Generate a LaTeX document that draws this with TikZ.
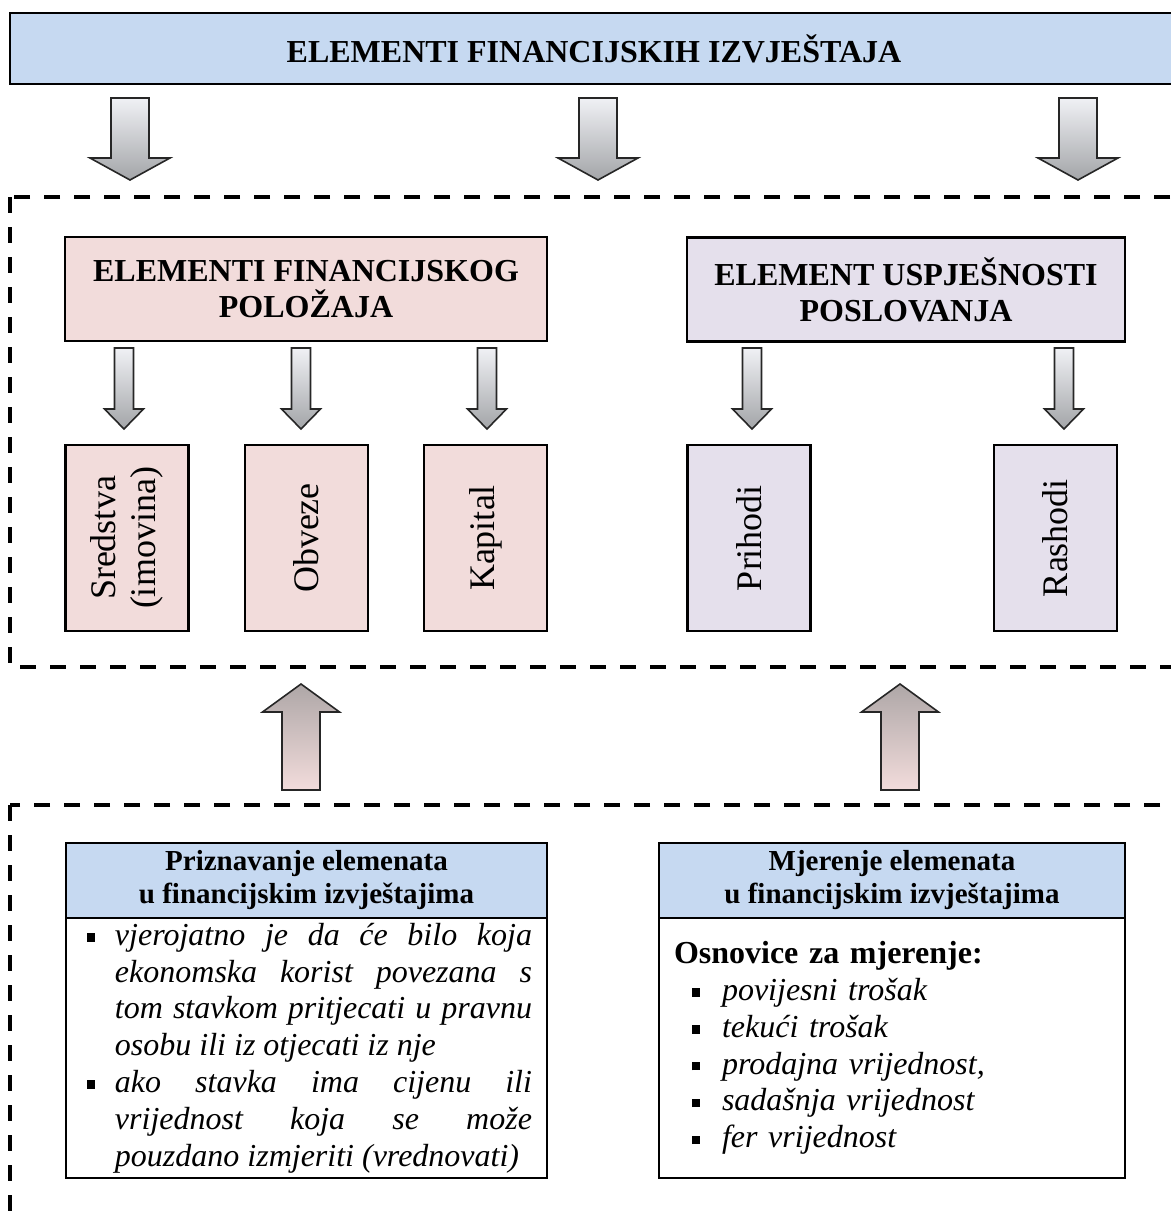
\documentclass[tikz,border=0pt]{standalone}
\usepackage{fontspec}
\setmainfont{Liberation Serif}
\usetikzlibrary{positioning}
\definecolor{plava}{RGB}{198,217,241}
\definecolor{roza}{RGB}{242,220,219}
\definecolor{lila}{RGB}{229,224,236}
\definecolor{svijetla}{RGB}{240,241,245}
\definecolor{tamna}{RGB}{163,165,168}
\definecolor{smeda}{RGB}{174,167,167}
\newcommand\kocka{\rule[0.25ex]{4.2pt}{4.2pt}}

\begin{document}
\begin{tikzpicture}[x=0.5pt,y=-0.5pt]
\tikzset{okvir/.style={draw, line width=1.3pt, inner sep=0pt, outer sep=0pt, align=center},
  glavni/.style={okvir, font=\fontsize{16}{18}\selectfont\bfseries},
  mali/.style={okvir, rotate=90, minimum width=93pt, minimum height=61.5pt, font=\fontsize{18}{20}\selectfont},
  zaglavlje/.style={okvir, fill=plava, minimum height=37.5pt, font=\fontsize{14.5}{16.5}\selectfont\bfseries},
  crta/.style={line width=1.6pt, dash pattern=on 8pt off 7pt},
  strelica/.style={draw=black!85, line width=0.8pt, top color=svijetla, bottom color=tamna},
  gore/.style={draw=black!85, line width=0.8pt, top color=smeda, bottom color=roza}}
\useasboundingbox (0,0) rectangle (1171,1211);
\clip (0,0) rectangle (1171,1211);

\node[glavni, fill=plava, minimum width=584pt, minimum height=35.5pt] (naslov) at (594,48.5) {ELEMENTI FINANCIJSKIH IZVJEŠTAJA};
\foreach \x in {130,598,1078}
  \draw[strelica] (\x-19,98) -- ++(38,0) -- ++(0,60) -- ++(21,0) -- ++(-40,22) -- ++(-40,-22) -- ++(21,0) -- cycle;

% isprekidani okviri
\draw[crta] (10,197) rectangle (1200,667);
\draw[crta] (10,805) rectangle (1200,1240);

\node[glavni, fill=roza, minimum width=241pt, minimum height=52pt] (polozaj) at (306,289) {ELEMENTI FINANCIJSKOG\\POLOŽAJA};
\node[glavni, fill=lila, minimum width=219pt, minimum height=52pt] (uspjeh) at (906,289.5) {ELEMENT USPJEŠNOSTI\\POSLOVANJA};

\node[mali, fill=roza] (sredstva) at (127,538) {Sredstva\\(imovina)};
\node[mali, fill=roza] (obveze) at (306.5,538) {Obveze};
\node[mali, fill=roza] (kapital) at (485.5,538) {Kapital};
\node[mali, fill=lila] (prihodi) at (749,538) {Prihodi};
\node[mali, fill=lila] (rashodi) at (1055.5,538) {Rashodi};
\foreach \x in {124,301,487,752,1064}
  \draw[strelica] (\x-9.5,348) -- ++(19,0) -- ++(0,61) -- ++(10,0) -- ++(-19.5,20) -- ++(-19.5,-20) -- ++(10,0) -- cycle;

\foreach \x in {301,900}
  \draw[gore] (\x-19,790) -- ++(38,0) -- ++(0,-78) -- ++(19.5,0) -- ++(-38.5,-28) -- ++(-38.5,28) -- ++(19.5,0) -- cycle;

% priznavanje i mjerenje
\node[zaglavlje, minimum width=240.5pt] (priznavanje) at (306.5,880.5) {Priznavanje elemenata\\u financijskim izvještajima};
\node[okvir, below=0pt of priznavanje, minimum width=240.5pt, minimum height=130pt, text width=240.5pt, align=justify,
  font=\fontsize{16}{18.4}\selectfont\itshape] (uvjeti) {\leftskip=24.5pt \rightskip=7.5pt \hyphenpenalty=10000
  \noindent\llap{\kocka\hspace{10pt}}vjerojatno je da će bilo koja\linebreak ekonomska korist povezana s\linebreak tom stavkom pritjecati u pravnu\linebreak osobu ili iz otjecati iz nje\par
  \noindent\llap{\kocka\hspace{10pt}}ako stavka ima cijenu ili\linebreak vrijednost koja se može\linebreak pouzdano izmjeriti (vrednovati)\par};

\node[zaglavlje, minimum width=233pt] (mjerenje) at (892,880.5) {Mjerenje elemenata\\u financijskim izvještajima};
\node[okvir, below=0pt of mjerenje, minimum width=233pt, minimum height=130pt, text width=233pt, align=left,
  font=\fontsize{16}{18.4}\selectfont] (osnovice) {\leftskip=7.5pt
  \noindent\textbf{Osnovice za mjerenje:}\par
  \leftskip=31.5pt \itshape
  \noindent\llap{\kocka\hspace{11pt}}povijesni trošak\par
  \noindent\llap{\kocka\hspace{11pt}}tekući trošak\par
  \noindent\llap{\kocka\hspace{11pt}}prodajna vrijednost,\par
  \noindent\llap{\kocka\hspace{11pt}}sadašnja vrijednost\par
  \noindent\llap{\kocka\hspace{11pt}}fer vrijednost\par};
\end{tikzpicture}
\end{document}
